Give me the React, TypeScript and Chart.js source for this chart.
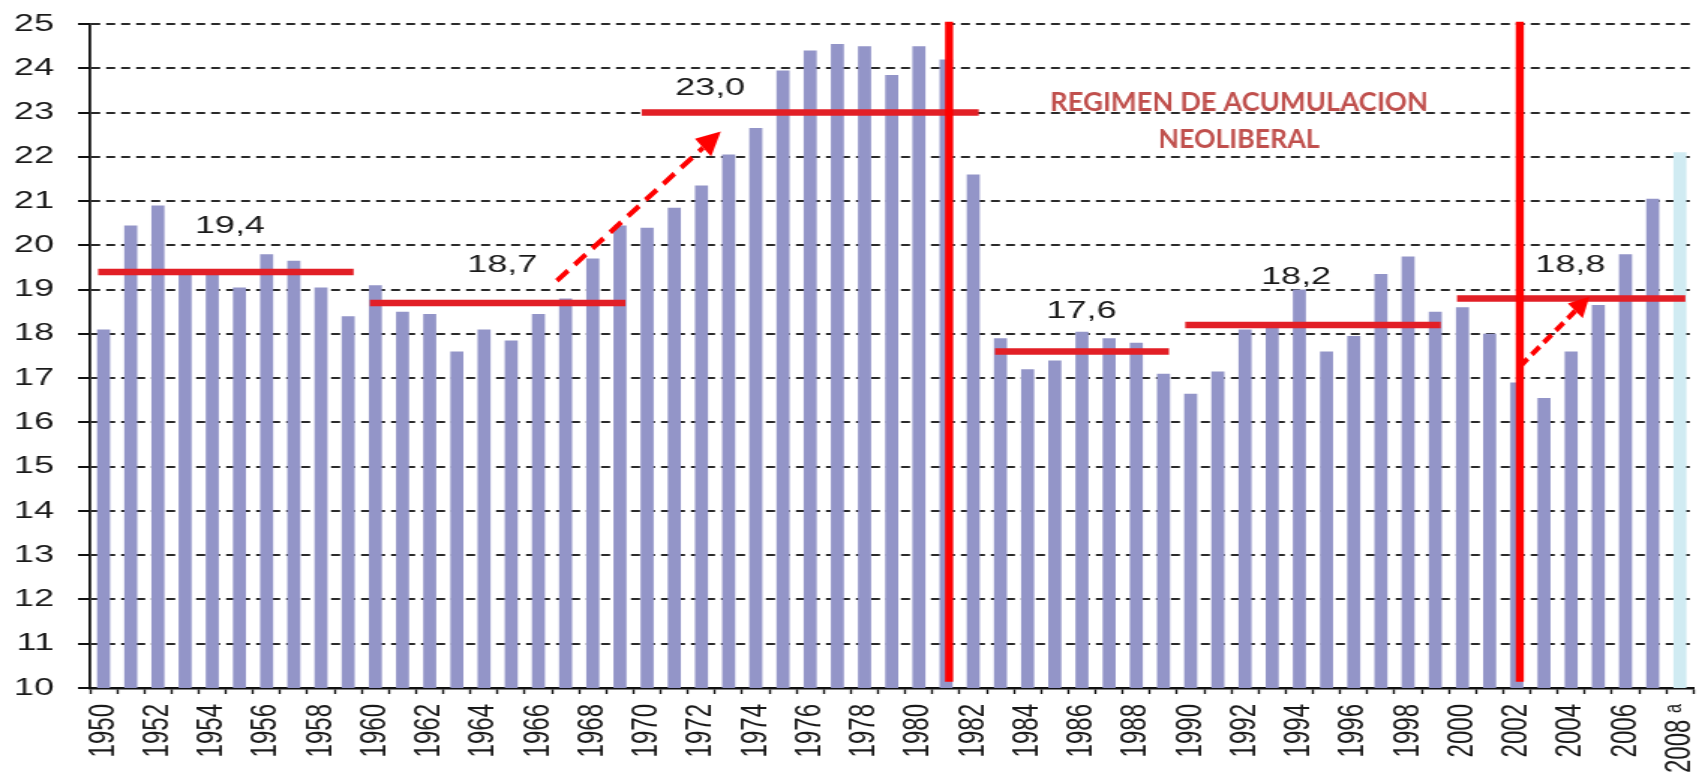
import React, { useEffect, useRef } from "react";
import { Chart, registerables } from "chart.js";

Chart.register(...registerables);

// ---------- data ----------
const years = [
  1950, 1951, 1952, 1953, 1954, 1955, 1956, 1957, 1958, 1959,
  1960, 1961, 1962, 1963, 1964, 1965, 1966, 1967, 1968, 1969,
  1970, 1971, 1972, 1973, 1974, 1975, 1976, 1977, 1978, 1979,
  1980, 1981, 1982, 1983, 1984, 1985, 1986, 1987, 1988, 1989,
  1990, 1991, 1992, 1993, 1994, 1995, 1996, 1997, 1998, 1999,
  2000, 2001, 2002, 2003, 2004, 2005, 2006, 2007, 2008,
];

const investment = [
  18.1, 20.45, 20.9, 19.4, 19.35, 19.05, 19.8, 19.65, 19.05, 18.4,
  19.1, 18.5, 18.45, 17.6, 18.1, 17.85, 18.45, 18.8, 19.7, 20.45,
  20.4, 20.85, 21.35, 22.05, 22.65, 23.95, 24.4, 24.55, 24.5, 23.85,
  24.5, 24.2, 21.6, 17.9, 17.2, 17.4, 18.05, 17.9, 17.8, 17.1,
  16.65, 17.15, 18.1, 18.2, 19.0, 17.6, 17.95, 19.35, 19.75, 18.5,
  18.6, 18.0, 16.9, 16.55, 17.6, 18.65, 19.8, 21.05, 22.1,
];

const estimatedYear = 2008;
const estimateMark = " ᵃ";

const periodStart = [1950, 1960, 1970, 1983, 1990, 2000];
const periodEnd = [1959, 1969, 1982, 1989, 1999, 2008];
const periodAvg = [19.4, 18.7, 23.0, 17.6, 18.2, 18.8];

const breakYears = [1981, 2002];
const regimeText = ["REGIMEN DE ACUMULACION", "NEOLIBERAL"];

const yMin = 10;
const yMax = 25;
const yStep = 1;

// ---------- layout / style (not data) ----------
const PAGE_W = 1705;
const PAGE_H = 775;
const CANVAS_W = 1137; // original chart is horizontally stretched
const STRETCH = PAGE_W / CANVAS_W;

const BAR_COLOR = "#9395c8";
const EST_COLOR = "#d0ebf2";
const AVG_COLOR = "#e21f26";
const BREAK_COLOR = "#ff0000";
const TEXT_COLOR = "#1a1a1a";
const REGIME_COLOR = "#c0504d";
const FONT = "'Liberation Sans', Arial, Helvetica, sans-serif";

const LINE_OVERHANG = 0.2;
const BREAK_SHIFT = 0.11;
const avgLabelX = [4.65, 14.67, 22.32, 35.98, 43.88, 53.97];
const avgLabelY = [20.42, 19.54, 23.55, 18.5, 19.28, 19.54];
const arrows = [
  { x0: 16.68, y0: 19.2, x1: 22.71, y1: 22.57, dash: [15, 9], head: 24, headW: 24 },
  { x0: 52.11, y0: 17.26, x1: 54.67, y1: 18.84, dash: [11, 6], head: 20, headW: 21 },
];
const regimeX = 41.78;
const regimeY = [23.04, 22.19];
const regimeW = [378, 161];

function xTickLabel(i: number): string {
  const y = years[i];
  if (y === undefined || y % 2 !== 0) return "";
  return y === estimatedYear ? `${y}${estimateMark}` : String(y);
}

const annotationPlugin = {
  id: "periodAnnotations",
  afterDraw(chart: any) {
    const ctx: CanvasRenderingContext2D = chart.ctx;
    const xs = chart.scales.x;
    const ys = chart.scales.y;
    const X = (i: number) => xs.getPixelForValue(i) * STRETCH;
    const Y = (v: number) => ys.getPixelForValue(v);

    ctx.save();
    ctx.scale(1 / STRETCH, 1);

    // period averages
    ctx.strokeStyle = AVG_COLOR;
    ctx.lineWidth = 6.5;
    ctx.lineCap = "butt";
    periodAvg.forEach((avg, k) => {
      const i0 = years.indexOf(periodStart[k]) - LINE_OVERHANG;
      const i1 = years.indexOf(periodEnd[k]) + LINE_OVERHANG;
      ctx.beginPath();
      ctx.moveTo(X(i0), Y(avg));
      ctx.lineTo(X(i1), Y(avg));
      ctx.stroke();
    });

    // regime breaks
    ctx.strokeStyle = BREAK_COLOR;
    ctx.lineWidth = 8;
    breakYears.forEach((yr) => {
      const xx = X(years.indexOf(yr) + BREAK_SHIFT);
      ctx.beginPath();
      ctx.moveTo(xx, Y(yMax + 0.05));
      ctx.lineTo(xx, Y(yMin + 0.14));
      ctx.stroke();
    });

    // dashed arrows
    ctx.fillStyle = BREAK_COLOR;
    arrows.forEach((a) => {
      const x0 = X(a.x0), y0 = Y(a.y0), x1 = X(a.x1), y1 = Y(a.y1);
      const ang = Math.atan2(y1 - y0, x1 - x0);
      const bx = x1 - a.head * Math.cos(ang);
      const by = y1 - a.head * Math.sin(ang);
      ctx.setLineDash(a.dash);
      ctx.lineWidth = 5;
      ctx.beginPath();
      ctx.moveTo(x0, y0);
      ctx.lineTo(bx, by);
      ctx.stroke();
      ctx.setLineDash([]);
      const hw = a.headW / 2;
      ctx.beginPath();
      ctx.moveTo(x1, y1);
      ctx.lineTo(bx + hw * Math.sin(ang), by - hw * Math.cos(ang));
      ctx.lineTo(bx - hw * Math.sin(ang), by + hw * Math.cos(ang));
      ctx.closePath();
      ctx.fill();
    });

    // regime caption
    ctx.fillStyle = REGIME_COLOR;
    ctx.textAlign = "center";
    ctx.textBaseline = "alphabetic";
    ctx.font = "bold 27px Lato, 'Open Sans', sans-serif";
    regimeText.forEach((t, k) => {
      const w = ctx.measureText(t).width;
      ctx.save();
      ctx.translate(X(regimeX), Y(regimeY[k]));
      ctx.scale(regimeW[k] / w, 1);
      ctx.fillText(t, 0, 0);
      ctx.restore();
    });
    ctx.restore();

    // average labels (stretched like the original chart text)
    ctx.save();
    ctx.font = `24px ${FONT}`;
    ctx.fillStyle = TEXT_COLOR;
    ctx.textAlign = "center";
    ctx.textBaseline = "middle";
    periodAvg.forEach((avg, k) => {
      ctx.fillText(
        avg.toFixed(1).replace(".", ","),
        xs.getPixelForValue(avgLabelX[k]),
        ys.getPixelForValue(avgLabelY[k])
      );
    });
    ctx.restore();
  },
};

export default function App() {
  const ref = useRef<HTMLCanvasElement | null>(null);

  useEffect(() => {
    const canvas = ref.current;
    if (!canvas) return;
    const chart = new Chart(canvas, {
      type: "bar",
      data: {
        labels: years.map(String),
        datasets: [
          {
            data: investment,
            backgroundColor: years.map((y) => (y === estimatedYear ? EST_COLOR : BAR_COLOR)),
            borderWidth: 0,
            barPercentage: 0.48,
            categoryPercentage: 1,
          },
        ],
      },
      options: {
        responsive: false,
        animation: false,
        devicePixelRatio: 1,
        layout: { padding: { top: 24, right: 7.7, left: 0, bottom: 0 } },
        plugins: { legend: { display: false }, tooltip: { enabled: false } },
        scales: {
          x: {
            offset: true,
            grid: {
              display: true,
              offset: true,
              drawOnChartArea: false,
              drawTicks: true,
              tickLength: 6,
              tickColor: "#111",
              tickWidth: 1.4,
            },
            border: { display: true, color: "#111", width: 2.5 },
            ticks: {
              autoSkip: false,
              maxRotation: 90,
              minRotation: 90,
              padding: 10,
              color: TEXT_COLOR,
              font: { family: FONT, size: 24 },
              callback: (_v: any, i: number) => xTickLabel(i),
            },
            afterFit: (s: any) => {
              s.height = PAGE_H - 688;
              s.paddingLeft = 0;
              s.paddingRight = 0;
            },
          },
          y: {
            min: yMin,
            max: yMax,
            z: 1,
            grid: {
              color: "#2a2a2a",
              lineWidth: 2,
              tickLength: 8,
              tickColor: "#111",
              tickWidth: 2,
              tickBorderDash: [],
            },
            border: { display: true, color: "#111", width: 1.8, dash: [6, 4] },
            ticks: {
              stepSize: yStep,
              padding: 16,
              color: TEXT_COLOR,
              font: { family: FONT, size: 24 },
              callback: (v: any) => String(v),
            },
            afterFit: (s: any) => {
              s.width = 60;
              s.paddingTop = 0;
              s.paddingBottom = 0;
            },
          },
        },
      },
      plugins: [annotationPlugin],
    } as any);
    return () => chart.destroy();
  }, []);

  return (
    <div style={{ position: "fixed", left: 0, top: 0, width: PAGE_W, height: PAGE_H, background: "#fff" }}>
      <canvas
        ref={ref}
        width={CANVAS_W}
        height={PAGE_H}
        style={{ width: `${PAGE_W}px`, height: `${PAGE_H}px` }}
      />
    </div>
  );
}
